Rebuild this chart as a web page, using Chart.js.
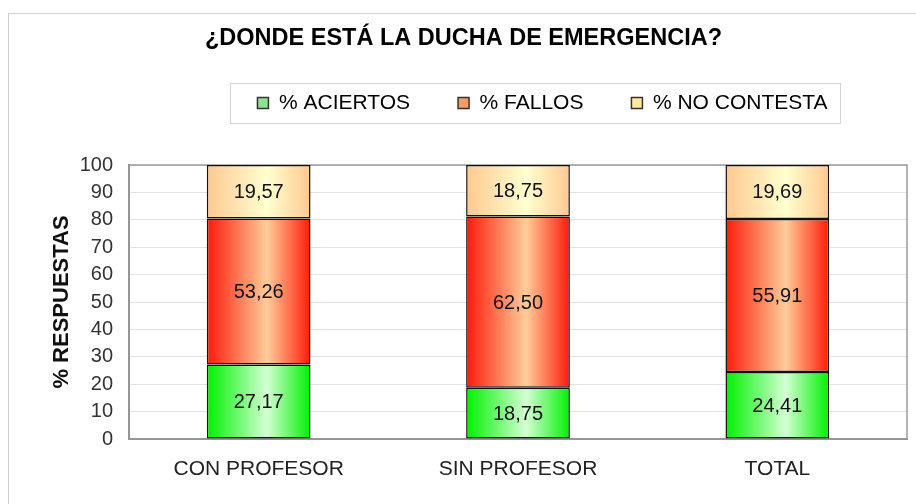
<!DOCTYPE html>
<html>
<head>
<meta charset="utf-8">
<script src="https://cdn.jsdelivr.net/npm/chart.js@4.4.1/dist/chart.umd.min.js"></script>
<style>
  html, body { margin: 0; padding: 0; background: #fff; }
  canvas { display: block; }
</style>
</head>
<body>
<canvas id="chart" width="916" height="504"></canvas>
<script>
const categories = ["CON PROFESOR", "SIN PROFESOR", "TOTAL"];
const seriesNames = ["% ACIERTOS", "% FALLOS", "% NO CONTESTA"];
const aciertos = [27.17, 18.75, 24.41];
const fallos = [53.26, 62.50, 55.91];
const noContesta = [19.57, 18.75, 19.69];
const yTicks = [0, 10, 20, 30, 40, 50, 60, 70, 80, 90, 100];

const FONT = "'Liberation Sans', Arial, sans-serif";
const BAR_PCT = 0.4;

// edge colour / light centre colour of each gradient
const fills = [
    ["#00f000", "#d4ffd4"],
    ["#ff1a0a", "#ffcc99"],
    ["#ffc890", "#ffffd0"]
];
const swatches = ["#8fe08f", "#ff9a66", "#ffe9a0"];

function barFill(i) {
    const [edge, mid] = fills[i];
    return ctx => {
        const chart = ctx.chart;
        const area = chart.chartArea;
        if (!area || ctx.type !== "data" || !chart.scales.x) return mid;
        const cx = chart.scales.x.getPixelForValue(ctx.dataIndex);
        const w = (area.right - area.left) / categories.length * BAR_PCT;
        const g = chart.ctx.createLinearGradient(cx - w / 2, 0, cx + w / 2, 0);
        g.addColorStop(0, edge);
        g.addColorStop(0.58, mid);
        g.addColorStop(1, edge);
        return g;
    };
}

// frame round the page and round the plot area, border of the legend
const framePlugin = {
    id: "frame",
    afterLayout(chart) {
        const lg = chart.legend;
        lg.left += 84; lg.right += 84;
        lg.top -= 41.5; lg.bottom -= 41.5;
        const tb = chart.titleBlock;
        tb.left += 5; tb.right += 5;
        tb.top += 1.5; tb.bottom += 1.5;
    },
    beforeDraw(chart) {
        const c = chart.ctx;
        c.save();
        c.fillStyle = "#fff";
        c.fillRect(0, 0, chart.width, chart.height);
        c.strokeStyle = "#cfcfcf";
        c.lineWidth = 1;
        c.strokeRect(8.5, 13.5, chart.width + 20, chart.height + 20);
        const lg = chart.legend;
        const cx = (lg.left + lg.right) / 2;
        const cy = lg.top + lg.options.labels.padding + 10.5;
        c.strokeStyle = "#d4d4d4";
        c.strokeRect(Math.round(cx - 313) + 0.5, Math.round(cy - 20) + 0.5, 610, 40);
        c.restore();
    },
    beforeDatasetsDraw(chart) {
        const a = chart.chartArea;
        const c = chart.ctx;
        c.save();
        c.strokeStyle = "#9a9a9a";
        c.lineWidth = 1.5;
        c.strokeRect(a.left, a.top, a.right - a.left, a.bottom - a.top);
        c.restore();
    }
};

const valueLabels = {
    id: "valueLabels",
    afterDatasetsDraw(chart) {
        const c = chart.ctx;
        c.save();
        c.font = "20px " + FONT;
        c.fillStyle = "#111";
        c.textAlign = "center";
        c.textBaseline = "middle";
        chart.data.datasets.forEach((ds, i) => {
            chart.getDatasetMeta(i).data.forEach((el, j) => {
                const txt = ds.data[j].toFixed(2).replace(".", ",");
                c.fillText(txt, el.x, (el.y + el.base) / 2 + 1);
            });
        });
        c.restore();
    }
};

const seriesData = [aciertos, fallos, noContesta];

new Chart(document.getElementById("chart"), {
    type: "bar",
    data: {
        labels: categories,
        datasets: seriesData.map((d, i) => ({
            label: seriesNames[i],
            data: d,
            backgroundColor: barFill(i),
            borderColor: "#111",
            borderWidth: 1.5,
            borderSkipped: false,
            categoryPercentage: 1,
            barPercentage: BAR_PCT
        }))
    },
    options: {
        responsive: false,
        animation: false,
        devicePixelRatio: 1,
        layout: { padding: { left: 10, right: 9, top: 0, bottom: 0 } },
        plugins: {
            title: {
                display: true,
                text: "¿DONDE ESTÁ LA DUCHA DE EMERGENCIA?",
                color: "#000",
                font: { family: FONT, size: 23.5, weight: "bold" },
                padding: { top: 22.9, bottom: 34.9 }
            },
            legend: {
                display: true,
                position: "top",
                labels: {
                    color: "#222",
                    font: { family: FONT, size: 21 },
                    boxWidth: 11,
                    boxHeight: 11,
                    padding: 48,
                    generateLabels: chart => chart.data.datasets.map((ds, i) => ({
                        text: ds.label,
                        fillStyle: swatches[i],
                        strokeStyle: "#333",
                        lineWidth: 1.5,
                        hidden: false,
                        datasetIndex: i
                    }))
                },
                onClick: () => {}
            },
            tooltip: { enabled: false }
        },
        scales: {
            x: {
                stacked: true,
                grid: { display: false, drawTicks: false },
                border: { display: true, color: "#888", width: 2 },
                ticks: { color: "#222", font: { family: FONT, size: 21 }, padding: 18, maxRotation: 0 },
                afterFit: s => { s.height = 65; }
            },
            y: {
                stacked: true,
                min: 0,
                max: 100,
                afterBuildTicks: s => { s.ticks = yTicks.map(v => ({ value: v })); },
                grid: { color: "#e2e2e2", lineWidth: 1, drawTicks: false },
                border: { display: true, color: "#888", width: 2 },
                ticks: { color: "#333", font: { family: FONT, size: 20 }, padding: 16, autoSkip: false },
                title: {
                    display: true,
                    text: "% RESPUESTAS",
                    color: "#111",
                    font: { family: FONT, size: 22, weight: "bold" },
                    padding: { top: 38.8, bottom: 0 }
                },
                afterFit: s => { s.width = 119; }
            }
        }
    },
    plugins: [framePlugin, valueLabels]
});
</script>
</body>
</html>
